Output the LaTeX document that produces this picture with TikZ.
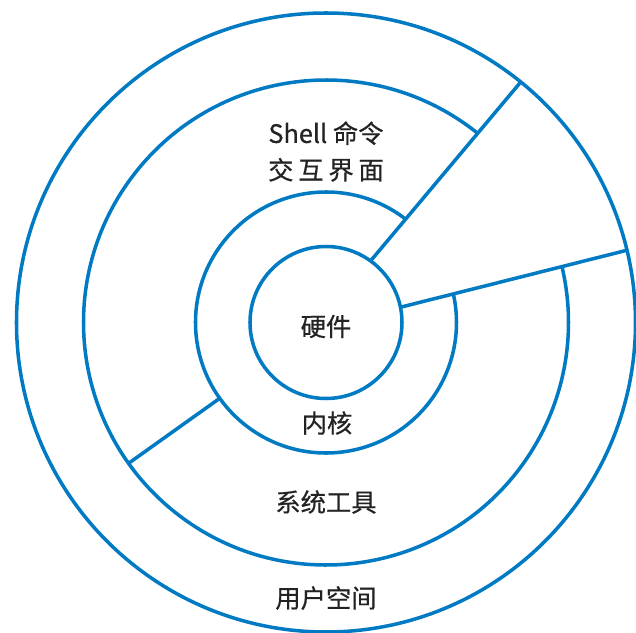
\documentclass[tikz,border=0pt]{standalone}
\usepackage{fontspec}
\newfontfamily\cjk[FakeBold=0.6]{Noto Sans CJK SC}
\usepackage{tikz}
\usetikzlibrary{calc,positioning}
\definecolor{ringblue}{RGB}{0,122,195}
\definecolor{txtgray}{RGB}{35,35,35}
\tikzset{
    ring/.style ={draw=ringblue, line width=2.5pt},
    lab/.style = {text=txtgray, font=\cjk\fontsize{18}{26}\selectfont, align=center, inner sep=0pt}
}

\begin{document}
\begin{tikzpicture}[x=0.025cm,y=0.025cm]
	\useasboundingbox (-326,-309.5) rectangle (310,322.5);
	\coordinate (c) at (0,0);

	\draw[ring] (c) circle (76);
	\draw[ring] (52.9:130.5) arc[start angle=52.9, end angle=372.5, radius=130.5];
	\draw[ring] (51.6:242.5) arc[start angle=51.6, end angle=373.1, radius=242.5];
	\draw[ring] (c) circle (309.5);

	\coordinate (a1) at (54.1:76);
	\coordinate (b1) at (51:309.5);
	\coordinate (a2) at (11.6:76);
	\coordinate (b2) at (13.5:309.5);
	\coordinate (a3) at (215.5:130.5);
	\coordinate (b3) at (215.5:242.5);
	\draw[ring] (a1) -- (b1);
	\draw[ring] (a2) -- (b2);
	\draw[ring] (a3) -- (b3);

	\node[lab] (1) at (0,-4) {硬件};
	\node[lab] (2) at (1,-100.5) {内核};
	\node[lab] (3) at (0,171) {Shell 命令\\交\kern0.19em 互\kern0.19em 界\kern0.19em 面};
	\node[lab] (4) at (0,-179.5) {系统工具};
	\node[lab] (5) at (0,-275.5) {用户空间};
\end{tikzpicture}
\end{document}
